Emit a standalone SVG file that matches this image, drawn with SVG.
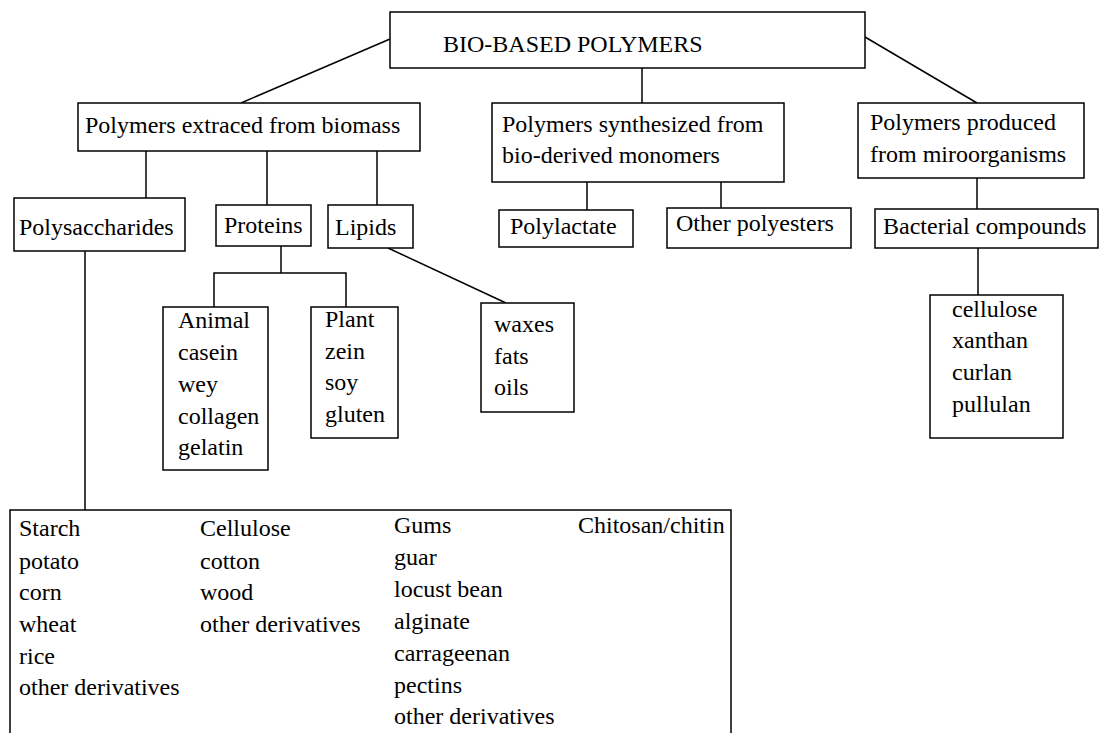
<svg xmlns="http://www.w3.org/2000/svg" width="1100" height="733" viewBox="0 0 1100 733">
<style>
.box{fill:#fff;stroke:#000;stroke-width:1.5}
.ln{fill:none;stroke:#000;stroke-width:1.5}
</style>
<rect x="0" y="0" width="1100" height="733" fill="#fff"/>
<g id="connectors">
<line class="ln" x1="390" y1="39" x2="241" y2="103"/>
<line class="ln" x1="642" y1="68" x2="642" y2="103"/>
<line class="ln" x1="865" y1="37" x2="977" y2="103"/>
<line class="ln" x1="146" y1="151" x2="146" y2="198"/>
<line class="ln" x1="267" y1="151" x2="267" y2="205"/>
<line class="ln" x1="377" y1="151" x2="377" y2="205"/>
<line class="ln" x1="587" y1="182" x2="587" y2="210"/>
<line class="ln" x1="721" y1="182" x2="721" y2="208"/>
<line class="ln" x1="977" y1="178" x2="977" y2="209"/>
<line class="ln" x1="978" y1="248" x2="978" y2="295"/>
<polyline class="ln" points="281,246 281,273"/>
<polyline class="ln" points="214,307 214,273 346,273 346,307"/>
<line class="ln" x1="388" y1="248" x2="506" y2="303"/>
<line class="ln" x1="85" y1="251" x2="85" y2="510"/>
</g>
<g font-family="Liberation Serif, Times New Roman, serif" font-size="24" fill="#000">
<g id="root">
<rect class="box" x="390" y="12" width="475" height="56"/>
<text x="443" y="52">BIO-BASED POLYMERS</text>
</g>
<g id="extracted">
<rect class="box" x="78" y="103" width="342" height="48"/>
<text x="85" y="133">Polymers extraced from biomass</text>
</g>
<g id="synthesized">
<rect class="box" x="492" y="103" width="292" height="79"/>
<text x="502" y="132">Polymers synthesized from</text>
<text x="502" y="163">bio-derived monomers</text>
</g>
<g id="produced">
<rect class="box" x="858" y="103" width="226" height="75"/>
<text x="870" y="130">Polymers produced</text>
<text x="870" y="162">from miroorganisms</text>
</g>
<g id="polysaccharides">
<rect class="box" x="14" y="198" width="171" height="53"/>
<text x="19" y="235">Polysaccharides</text>
</g>
<g id="proteins">
<rect class="box" x="216" y="205" width="95" height="41"/>
<text x="224" y="233">Proteins</text>
</g>
<g id="lipids">
<rect class="box" x="328" y="205" width="85" height="43"/>
<text x="335" y="235">Lipids</text>
</g>
<g id="polylactate">
<rect class="box" x="499" y="210" width="134" height="37"/>
<text x="510" y="234">Polylactate</text>
</g>
<g id="other-polyesters">
<rect class="box" x="667" y="208" width="184" height="40"/>
<text x="676" y="231">Other polyesters</text>
</g>
<g id="bacterial">
<rect class="box" x="875" y="209" width="223" height="39"/>
<text x="883" y="234">Bacterial compounds</text>
</g>
<g id="animal">
<rect class="box" x="163" y="307" width="105" height="163"/>
<text x="178" y="328">Animal</text>
<text x="178" y="360">casein</text>
<text x="178" y="392">wey</text>
<text x="178" y="424">collagen</text>
<text x="178" y="455">gelatin</text>
</g>
<g id="plant">
<rect class="box" x="311" y="307" width="87" height="131"/>
<text x="325" y="327">Plant</text>
<text x="325" y="359">zein</text>
<text x="325" y="390">soy</text>
<text x="325" y="422">gluten</text>
</g>
<g id="lipid-types">
<rect class="box" x="481" y="303" width="93" height="109"/>
<text x="494" y="332">waxes</text>
<text x="494" y="364">fats</text>
<text x="494" y="395">oils</text>
</g>
<g id="bacterial-types">
<rect class="box" x="930" y="295" width="133" height="143"/>
<text x="952" y="317">cellulose</text>
<text x="952" y="348">xanthan</text>
<text x="952" y="380">curlan</text>
<text x="952" y="412">pullulan</text>
</g>
<g id="polysaccharide-types">
<path class="ln" d="M10,740 V510 H731 V740"/>
<text x="19" y="536">Starch</text>
<text x="19" y="569">potato</text>
<text x="19" y="600">corn</text>
<text x="19" y="632">wheat</text>
<text x="19" y="664">rice</text>
<text x="19" y="695">other derivatives</text>
<text x="200" y="536">Cellulose</text>
<text x="200" y="569">cotton</text>
<text x="200" y="600">wood</text>
<text x="200" y="632">other derivatives</text>
<text x="394" y="533">Gums</text>
<text x="394" y="565">guar</text>
<text x="394" y="597">locust bean</text>
<text x="394" y="629">alginate</text>
<text x="394" y="661">carrageenan</text>
<text x="394" y="693">pectins</text>
<text x="394" y="724">other derivatives</text>
<text x="578" y="533">Chitosan/chitin</text>
</g>
</g>
</svg>
